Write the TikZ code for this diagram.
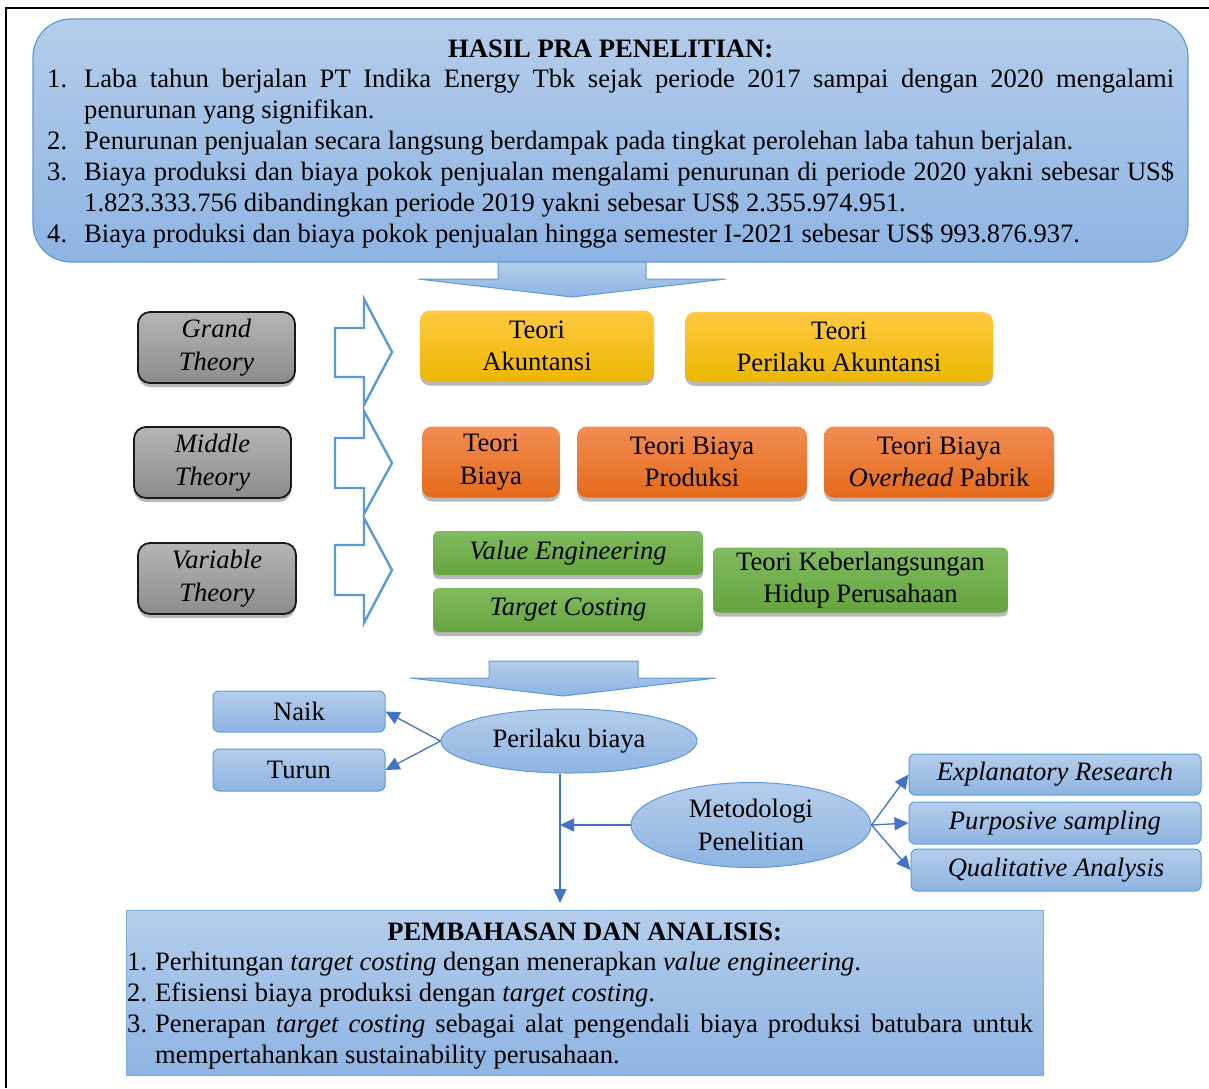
\documentclass[tikz,border=0pt]{standalone}
\usepackage{fontspec}
\setmainfont{Liberation Serif}
\usetikzlibrary{shapes.geometric,arrows.meta,shadows,calc}
\definecolor{bluetop}{HTML}{B4CDEB}
\definecolor{bluebot}{HTML}{8EB4E3}
\definecolor{blueline}{HTML}{5B9BD5}
\definecolor{conncol}{HTML}{4472C4}
\definecolor{graytop}{HTML}{B5B5B5}
\definecolor{graybot}{HTML}{8C8C8C}
\definecolor{yeltop}{HTML}{FFC942}
\definecolor{yelbot}{HTML}{ECB700}
\definecolor{orgtop}{HTML}{F28D53}
\definecolor{orgbot}{HTML}{E46A1A}
\definecolor{grntop}{HTML}{80BB5F}
\definecolor{grnbot}{HTML}{65A43E}
\hyphenpenalty=10000
\exhyphenpenalty=10000
\begin{document}
\begin{tikzpicture}[x=1pt,y=-1pt,
  font=\fontsize{26.6pt}{32.5pt}\selectfont,
  box/.style={draw, rectangle, inner sep=0pt, align=center},
  shad/.style={drop shadow={shadow xshift=0pt,shadow yshift=-4pt,opacity=0.28,fill=black}},
  grayb/.style={box, draw=black!90, line width=1.8pt, rounded corners=12pt, top color=graytop, bottom color=graybot, shad},
  yelb/.style={box, draw=none, rounded corners=10pt, top color=yeltop, bottom color=yelbot, shad},
  orgb/.style={box, draw=none, rounded corners=10pt, top color=orgtop, bottom color=orgbot, shad},
  grnb/.style={box, draw=none, rounded corners=6pt, top color=grntop, bottom color=grnbot, shad},
  blueb/.style={box, draw=blueline, line width=1pt, rounded corners=6pt, top color=bluetop, bottom color=bluebot},
  bluee/.style={ellipse, draw=blueline, line width=1pt, inner sep=0pt, align=center, top color=bluetop, bottom color=bluebot},
  bigarrow/.style={draw=blueline, line width=1pt, top color=bluetop, bottom color=bluebot},
  hollow/.style={draw=blueline, line width=2.4pt, fill=white, line join=miter},
  conn/.style={draw=conncol, line width=1.3pt, -{Triangle[length=14pt,width=13pt]}},
  listtext/.style={anchor=base west, inner sep=0pt, align=justify, font=\fontsize{26.6pt}{30.9pt}\selectfont}
]
\useasboundingbox (0,0) rectangle (1209,1088);
\fill[white] (0,0) rectangle (1209,1088);
% frame
\draw[line width=2.4pt] (1209,8) -- (6,8) -- (6,1088);

% top box
\node[draw=blueline, line width=1.2pt, rounded corners=38pt, top color=bluetop, bottom color=bluebot,
      minimum width=1155pt, minimum height=243pt, inner sep=0pt] (top) at (610.5,140.5) {};
\node[listtext, text width=1127pt] (toptext) at (47,57) {%
{\centering\bfseries HASIL PRA PENELITIAN:\par}
\noindent\hangindent=37pt\hangafter=1\makebox[37pt][l]{1.}Laba tahun berjalan PT Indika Energy Tbk sejak periode 2017 sampai dengan 2020 mengalami\linebreak penurunan yang signifikan.\par
\noindent\hangindent=37pt\hangafter=1\makebox[37pt][l]{2.}Penurunan penjualan secara langsung berdampak pada tingkat perolehan laba tahun berjalan.\par
\noindent\hangindent=37pt\hangafter=1\makebox[37pt][l]{3.}Biaya produksi dan biaya pokok penjualan mengalami penurunan di periode 2020 yakni sebesar US\$\linebreak 1.823.333.756 dibandingkan periode 2019 yakni sebesar US\$ 2.355.974.951.\par
\noindent\hangindent=37pt\hangafter=1\makebox[37pt][l]{4.}Biaya produksi dan biaya pokok penjualan hingga semester I-2021 sebesar US\$ 993.876.937.\par};

% big arrow 1
\path[bigarrow] (498,262) -- (646,262) -- (646,279) -- (726,279) -- (572,297) -- (418,279) -- (498,279) -- cycle;

% hollow arrows
\path[hollow] (335,328) -- (364,328) -- (364,299) -- (392,352) -- (364,405) -- (364,377) -- (335,377) -- cycle;
\path[hollow] (335,438) -- (364,438) -- (364,411) -- (392,463) -- (364,514) -- (364,488) -- (335,488) -- cycle;
\path[hollow] (335,545) -- (364,545) -- (364,518) -- (392,570) -- (364,623) -- (364,595) -- (335,595) -- cycle;

% gray boxes
\node[grayb, minimum width=157pt, minimum height=71pt] (grand) at (216.5,347.5) {\textit{Grand}\\\textit{Theory}};
\node[grayb, minimum width=157pt, minimum height=71pt] (middle) at (212.5,462.5) {\textit{Middle}\\\textit{Theory}};
\node[grayb, minimum width=158pt, minimum height=71pt] (variable) at (217,578.5) {\textit{Variable}\\\textit{Theory}};

% yellow
\node[yelb, minimum width=234pt, minimum height=71pt] (akt) at (537,346) {Teori\\Akuntansi};
\node[yelb, minimum width=308pt, minimum height=70pt] (pakt) at (839,347) {Teori\\Perilaku Akuntansi};

% orange
\node[orgb, minimum width=138pt, minimum height=71pt] (tb) at (491,462) {Teori\\Biaya};
\node[orgb, minimum width=230pt, minimum height=71pt] (tbp) at (692,462) {Teori Biaya\\Produksi};
\node[orgb, minimum width=230pt, minimum height=71pt] (tbo) at (939,462) {Teori Biaya\\\textit{Overhead} Pabrik};

% green
\node[grnb, minimum width=270pt, minimum height=44pt] (ve) at (568,553) {\textit{Value Engineering}};
\node[grnb, minimum width=270pt, minimum height=44pt] (tc) at (568,610) {\textit{Target Costing}};
\node[grnb, minimum width=295pt, minimum height=65pt] (tk) at (860.5,580) {Teori Keberlangsungan\\Hidup Perusahaan};

% big arrow 2
\path[bigarrow] (489,661) -- (638,661) -- (638,678) -- (716,678) -- (563,696) -- (410,678) -- (489,678) -- cycle;

% lower part
\node[blueb, minimum width=172pt, minimum height=41pt] (naik) at (299,711.5) {Naik};
\node[blueb, minimum width=172pt, minimum height=42pt] (turun) at (299,770) {Turun};
\node[bluee, minimum width=256pt, minimum height=64pt] (pb) at (569,741) {Perilaku biaya};
\node[bluee, minimum width=240pt, minimum height=85pt] (met) at (751,825) {Metodologi\\Penelitian};
\node[blueb, minimum width=292pt, minimum height=41pt] (expl) at (1055,774.5) {\textit{Explanatory Research}};
\node[blueb, minimum width=292pt, minimum height=42pt] (purp) at (1055,823) {\textit{Purposive sampling}};
\node[blueb, minimum width=290pt, minimum height=42pt] (qual) at (1056,870) {\textit{Qualitative Analysis}};

\coordinate (vend) at (560,903);
\draw[conn] (pb.west) -- (naik.east);
\draw[conn] (pb.west) -- (turun.east);
\draw[conn] (pb.south -| vend) -- (vend);
\draw[conn] (met.west) -- (met.west -| vend);
\draw[conn] (met.east) -- (expl.west);
\draw[conn] (met.east) -- (purp.west);
\draw[conn] (met.east) -- (qual.west);

% bottom box
\node[draw=blueline!80, line width=1pt, top color=bluetop, bottom color=bluebot,
      minimum width=917pt, minimum height=165pt, inner sep=0pt] (bot) at (584.5,992.5) {};
\node[listtext, text width=906pt] (bottext) at (127,940) {%
{\centering\bfseries\hspace*{9pt}PEMBAHASAN DAN ANALISIS:\par}
\noindent\hangindent=28pt\hangafter=1\makebox[28pt][l]{1.}Perhitungan \textit{target costing} dengan menerapkan \textit{value engineering}.\par
\noindent\hangindent=28pt\hangafter=1\makebox[28pt][l]{2.}Efisiensi biaya produksi dengan \textit{target costing}.\par
\noindent\hangindent=28pt\hangafter=1\makebox[28pt][l]{3.}Penerapan \textit{target costing} sebagai alat pengendali biaya produksi batubara untuk\linebreak mempertahankan sustainability perusahaan.\par};
\end{tikzpicture}
\end{document}
